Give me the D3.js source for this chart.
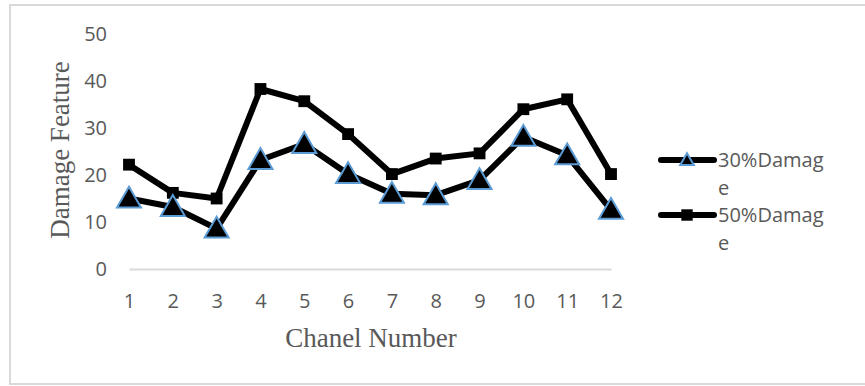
<!DOCTYPE html>
<html>
<head>
<meta charset="utf-8">
<script src="https://cdn.jsdelivr.net/npm/d3@7"></script>
<style>
  html, body { margin: 0; padding: 0; background: #fff; }
  svg { display: block; }
</style>
</head>
<body>
<svg id="chart" width="865" height="386"></svg>
<script>
// Channel numbers along the x axis
const channels = [1, 2, 3, 4, 5, 6, 7, 8, 9, 10, 11, 12];
// Damage feature per channel, 30% damage case
const damage30 = [15, 13.2, 8.6, 23.2, 26.6, 20.2, 16, 15.7, 18.9, 28.1, 24.2, 12.6];
// Damage feature per channel, 50% damage case
const damage50 = [22.2, 16.2, 15, 38.3, 35.7, 28.7, 20.2, 23.5, 24.6, 34, 36.1, 20.2];
// Y axis tick labels
const yTicks = [0, 10, 20, 30, 40, 50];
// Legend entries, label split where it wraps
const seriesNames = [["30%Damag", "e"], ["50%Damag", "e"]];

const svg = d3.select("#chart");
const textGray = "#595959";
const sansFont = "'Open Sans', 'Noto Sans', sans-serif";
const serifFont = "'Liberation Serif', 'DejaVu Serif', serif";

// outer chart border
svg.append("rect")
  .attr("x", 10).attr("y", 5)
  .attr("width", 862).attr("height", 379)
  .attr("fill", "#fff")
  .attr("stroke", "#d9d9d9")
  .attr("stroke-width", 2);

const x = d3.scalePoint().domain(channels).range([129, 611]);
const y = d3.scaleLinear().domain([0, 50]).range([269, 34]);

// y axis (labels only)
const yAxis = svg.append("g")
  .attr("transform", `translate(${x.range()[0]},0)`)
  .call(d3.axisLeft(y).tickValues(yTicks).tickSize(0).tickPadding(22));
yAxis.select(".domain").remove();
yAxis.selectAll("text")
  .attr("fill", textGray)
  .style("font-family", sansFont)
  .style("font-size", "20px");

// x axis with light baseline
const xAxis = svg.append("g")
  .attr("transform", `translate(0,${y(0)})`)
  .call(d3.axisBottom(x).tickSize(0).tickPadding(25));
xAxis.select(".domain")
  .attr("stroke", "#d9d9d9")
  .attr("stroke-width", 2);
xAxis.selectAll("text")
  .attr("fill", textGray)
  .style("font-family", sansFont)
  .style("font-size", "20px");

// axis titles
svg.append("text")
  .attr("transform", "translate(69,150) rotate(-90)")
  .attr("text-anchor", "middle")
  .attr("fill", textGray)
  .style("font-family", serifFont)
  .style("font-size", "27px")
  .text("Damage Feature");

svg.append("text")
  .attr("x", 371).attr("y", 347)
  .attr("text-anchor", "middle")
  .attr("fill", textGray)
  .style("font-family", serifFont)
  .style("font-size", "27px")
  .text("Chanel Number");

const line = d3.line()
  .x((d, i) => x(channels[i]))
  .y(d => y(d));

const triangle = d3.symbol().type(d3.symbolTriangle);
const square = d3.symbol().type(d3.symbolSquare);

// 30% damage series
svg.append("path")
  .datum(damage30)
  .attr("d", line)
  .attr("fill", "none")
  .attr("stroke", "#000")
  .attr("stroke-width", 6)
  .attr("stroke-linejoin", "round");

// 50% damage series
svg.append("path")
  .datum(damage50)
  .attr("d", line)
  .attr("fill", "none")
  .attr("stroke", "#000")
  .attr("stroke-width", 6)
  .attr("stroke-linejoin", "round");

svg.append("g").selectAll("path")
  .data(damage50)
  .join("path")
  .attr("transform", (d, i) => `translate(${x(channels[i])},${y(d)})`)
  .attr("d", square.size(140)())
  .attr("fill", "#000");

svg.append("g").selectAll("path")
  .data(damage30)
  .join("path")
  .attr("transform", (d, i) => `translate(${x(channels[i])},${y(d) + 2})`)
  .attr("d", triangle.size(250)())
  .attr("fill", "#000")
  .attr("stroke", "#5b9bd5")
  .attr("stroke-width", 2)
  .attr("stroke-linejoin", "miter");

// legend
const legendY = [160, 215];
const legend = svg.append("g");
seriesNames.forEach((name, k) => {
  const g = legend.append("g").attr("transform", `translate(0,${legendY[k]})`);
  g.append("line")
    .attr("x1", 661).attr("x2", 714)
    .attr("stroke", "#000").attr("stroke-width", 6)
    .attr("stroke-linecap", "round");
  if (k === 0) {
    g.append("path")
      .attr("transform", "translate(687,1)")
      .attr("d", triangle.size(80)())
      .attr("fill", "#000")
      .attr("stroke", "#5b9bd5")
      .attr("stroke-width", 2);
  } else {
    g.append("path")
      .attr("transform", "translate(687,0)")
      .attr("d", square.size(130)())
      .attr("fill", "#000");
  }
  const t = g.append("text")
    .attr("x", 718).attr("y", 7)
    .attr("fill", textGray)
    .style("font-family", sansFont)
    .style("font-size", "20px");
  t.append("tspan").attr("x", 718).attr("dy", 0).text(name[0]);
  t.append("tspan").attr("x", 718).attr("dy", 28).text(name[1]);
});
</script>
</body>
</html>
